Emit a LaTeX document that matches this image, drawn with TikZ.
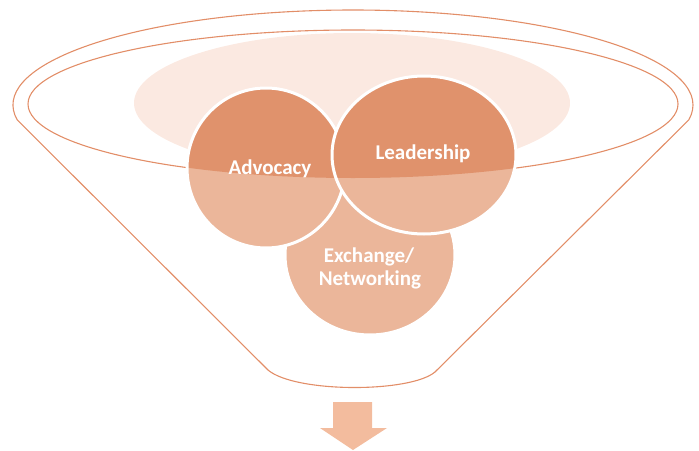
\documentclass[tikz,border=0pt]{standalone}
\usepackage{fontspec}
\setmainfont{Carlito}
\definecolor{funnelline}{RGB}{226,142,104}
\definecolor{darkpeach}{RGB}{224,146,108}
\definecolor{lightpeach}{RGB}{235,182,154}
\definecolor{palepeach}{RGB}{251,233,225}
\definecolor{arrowpeach}{RGB}{243,188,158}
\tikzset{
  funnel/.style={draw=funnelline, line width=1.1pt},
  bubbleline/.style={draw=white, line width=3pt},
  bubbletext/.style={text=white, font=\bfseries\fontsize{21}{23}\selectfont, align=center, inner sep=0pt},
}
\begin{document}
\begin{tikzpicture}[x=1pt,y=-1pt]
\useasboundingbox (0,0) rectangle (699,450);
% funnel outline
\draw[funnel] (353,105) ++(171:340 and 95) coordinate (lk)
  arc[start angle=171, end angle=369, x radius=340, y radius=95] coordinate (rk)
  -- (435,372) coordinate (rb)
  .. controls (410,393) and (295,393) .. (268,370) coordinate (lb)
  -- cycle;
\draw[funnel] (353,104) ellipse[x radius=325, y radius=74];
% pale ellipse
\fill[palepeach] (352,103) ellipse[x radius=218, y radius=70];
% Exchange
\fill[lightpeach] (370,255) ellipse[x radius=85, y radius=80];
\draw[bubbleline] (370,255) ellipse[x radius=85, y radius=80];
% Advocacy
\fill[lightpeach] (266,168) ellipse[x radius=79, y radius=80];
\begin{scope}
  \clip (353,104) ellipse[x radius=325, y radius=74];
  \fill[darkpeach] (266,168) ellipse[x radius=79, y radius=80];
\end{scope}
\draw[bubbleline] (266,168) ellipse[x radius=79, y radius=80];
% Leadership
\fill[lightpeach] (424,155) ellipse[x radius=92, y radius=79];
\begin{scope}
  \clip (353,104) ellipse[x radius=325, y radius=74];
  \fill[darkpeach] (424,155) ellipse[x radius=92, y radius=79];
\end{scope}
\draw[bubbleline] (424,155) ellipse[x radius=92, y radius=79];
% texts
\node[bubbletext, anchor=base] (adv) at (270,174) {Advocacy};
\node[bubbletext, anchor=base] (lead) at (423,159) {Leadership};
\node[bubbletext, anchor=base] (exch1) at (369,262) {Exchange/};
\node[bubbletext, anchor=base] (exch2) at (370,285) {Networking};
% arrow
\fill[arrowpeach] (333,402) -- (372,402) -- (372,428) -- (387,428) -- (353,450) -- (320,428) -- (333,428) -- cycle;
\end{tikzpicture}
\end{document}
